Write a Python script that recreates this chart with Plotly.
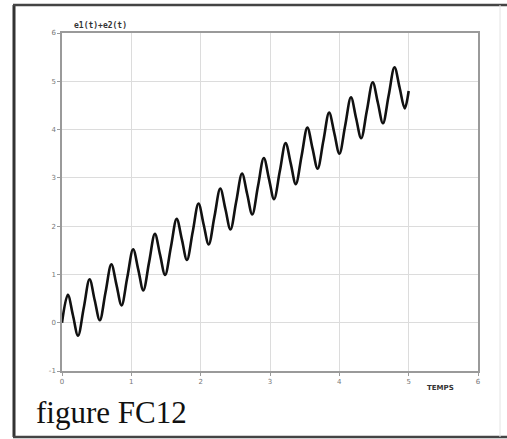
import plotly.graph_objects as go

# values (peaks, troughs and mid-crossings of the curve)
t_values = [0.000, 0.084, 0.157, 0.231, 0.314, 0.398, 0.471, 0.545, 0.628, 0.712,
            0.785, 0.859, 0.942, 1.026, 1.100, 1.173, 1.257, 1.340, 1.414, 1.487,
            1.571, 1.654, 1.728, 1.802, 1.885, 1.969, 2.042, 2.116, 2.199, 2.283,
            2.356, 2.430, 2.513, 2.597, 2.670, 2.744, 2.827, 2.911, 2.985, 3.058,
            3.142, 3.225, 3.299, 3.372, 3.456, 3.539, 3.613, 3.687, 3.770, 3.853,
            3.927, 4.001, 4.084, 4.168, 4.241, 4.315, 4.398, 4.482, 4.555, 4.629,
            4.712, 4.796, 4.869, 4.943, 5.000]
e_values = [0.00, 0.58, 0.16, -0.27, 0.31, 0.90, 0.47, 0.05, 0.63, 1.21,
            0.79, 0.36, 0.94, 1.52, 1.10, 0.67, 1.26, 1.84, 1.41, 0.99,
            1.57, 2.15, 1.73, 1.30, 1.88, 2.47, 2.04, 1.62, 2.20, 2.78,
            2.36, 1.93, 2.51, 3.09, 2.67, 2.24, 2.83, 3.41, 2.98, 2.56,
            3.14, 3.72, 3.30, 2.87, 3.46, 4.04, 3.61, 3.19, 3.77, 4.35,
            3.93, 3.50, 4.08, 4.67, 4.24, 3.82, 4.40, 4.98, 4.56, 4.13,
            4.71, 5.29, 4.87, 4.44, 4.80]

x_ticks = [0, 1, 2, 3, 4, 5, 6]
y_ticks = [-1, 0, 1, 2, 3, 4, 5, 6]

W, H = 507, 439
L, R, T, B = 62, 478, 33, 371  # plot box in pixels


def px(x):
    return (x - L) / (R - L)


def py(y):
    return (B - y) / (B - T)


fig = go.Figure()
fig.add_trace(go.Scatter(
    x=t_values, y=e_values, mode="lines",
    line=dict(color="#111111", width=2.6, shape="spline", smoothing=1.0),
    showlegend=False, hoverinfo="skip",
))

axis_common = dict(
    showgrid=True, gridcolor="#dcdcdc", gridwidth=1,
    showline=True, linecolor="#9a9a9a", linewidth=1.5, mirror=True,
    ticks="outside", ticklen=3, tickcolor="#9a9a9a",
    tickfont=dict(family="DejaVu Sans", size=7, color="#777777"),
    zeroline=False, fixedrange=True,
)

fig.update_layout(
    width=W, height=H,
    margin=dict(l=L, r=W - R, t=T, b=H - B, pad=0),
    paper_bgcolor="white", plot_bgcolor="white",
    xaxis=dict(range=[0, 6], tickvals=x_ticks, ticktext=[str(v) for v in x_ticks], **axis_common),
    yaxis=dict(range=[-1, 6], tickvals=y_ticks, ticktext=[str(v) for v in y_ticks], **axis_common),
    annotations=[
        dict(text="<b>e1(t)+e2(t)</b>", xref="paper", yref="paper", x=px(100), y=py(25),
             showarrow=False, xanchor="center", yanchor="middle",
             font=dict(family="DejaVu Sans Mono", size=8, color="#333333")),
        dict(text="<b>TEMPS</b>", xref="paper", yref="paper", x=px(440), y=py(388),
             showarrow=False, xanchor="center", yanchor="middle",
             font=dict(family="DejaVu Sans", size=7, color="#333333")),
        dict(text="figure FC12", xref="paper", yref="paper", x=px(34), y=py(412),
             showarrow=False, xanchor="left", yanchor="middle",
             font=dict(family="Liberation Serif", size=31, color="#111111")),
    ],
    shapes=[
        dict(type="line", xref="paper", yref="paper", x0=px(14), x1=px(14), y0=py(5), y1=py(437),
             line=dict(color="#333333", width=3)),
        dict(type="line", xref="paper", yref="paper", x0=px(13), x1=px(507), y0=py(5), y1=py(5),
             line=dict(color="#444444", width=2.5)),
        dict(type="line", xref="paper", yref="paper", x0=px(13), x1=px(507), y0=py(437), y1=py(437),
             line=dict(color="#444444", width=2.5)),
        dict(type="line", xref="paper", yref="paper", x0=px(500), x1=px(500), y0=py(5), y1=py(437),
             line=dict(color="#e4e4e4", width=1)),
    ],
)

fig.write_html("out.html")
